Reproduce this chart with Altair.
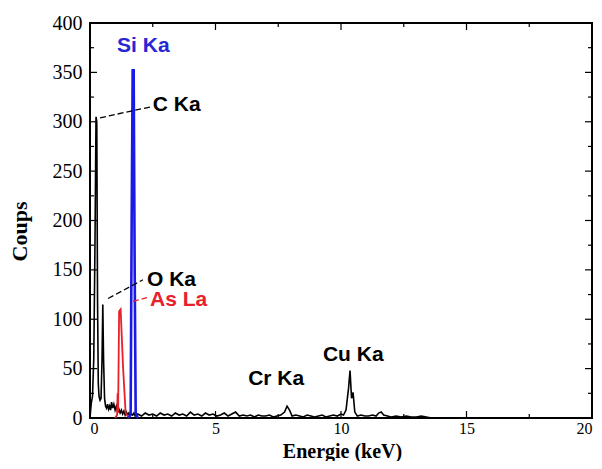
import altair as alt
import pandas as pd

# ---- data ----
black_energy = [0.00, 0.05, 0.10, 0.15, 0.20, 0.24, 0.27, 0.30, 0.33, 0.36, 0.40, 0.44, 0.48, 0.51,
                0.54, 0.58, 0.62, 0.66, 0.70, 0.74, 0.78, 0.82, 0.86, 0.90, 0.95, 1.00, 1.05, 1.10,
                1.15, 1.20, 1.25, 1.30, 1.35, 1.40, 1.45, 1.50, 1.55, 1.60, 1.65, 1.70, 1.75, 1.80,
                1.90, 2.05, 2.20, 2.35, 2.50, 2.65, 2.80, 2.95, 3.10, 3.25, 3.40, 3.55, 3.70, 3.85,
                4.00, 4.15, 4.30, 4.45, 4.60, 4.75, 4.90, 5.05, 5.20, 5.35, 5.50, 5.65, 5.80, 5.95,
                6.10, 6.25, 6.40, 6.55, 6.70, 6.85, 7.00, 7.15, 7.30, 7.45, 7.60, 7.75, 7.85, 7.95,
                8.05, 8.20, 8.35, 8.50, 8.65, 8.80, 8.95, 9.10, 9.25, 9.40, 9.55, 9.70, 9.85, 10.00,
                10.10, 10.20, 10.30, 10.36, 10.42, 10.48, 10.55, 10.65, 10.80, 10.95, 11.10, 11.25,
                11.40, 11.50, 11.60, 11.70, 11.85, 12.00, 12.20, 12.40, 12.60, 12.80, 13.00, 13.20,
                13.40, 13.60, 14.00, 20.00]
black_counts = [0, 15, 22, 60, 180, 305, 300, 120, 35, 22, 18, 20, 60, 115,
                60, 20, 12, 10, 14, 9, 12, 8, 16, 10, 14, 8, 12, 6,
                9, 5, 8, 4, 7, 3, 6, 3, 5, 2, 4, 3, 5, 2,
                4, 2, 5, 3, 4, 2, 5, 3, 4, 2, 5, 3, 4, 2,
                6, 3, 4, 2, 5, 3, 4, 2, 3, 5, 2, 4, 6, 2,
                3, 2, 3, 1, 3, 2, 2, 3, 1, 2, 3, 6, 12, 8,
                2, 3, 2, 1, 3, 2, 1, 2, 3, 1, 2, 3, 2, 4,
                3, 8, 30, 48, 20, 26, 6, 2, 3, 2, 2, 3,
                2, 5, 6, 3, 2, 1, 2, 1, 2, 1, 1, 2,
                1, 0, 0, 0]

red_energy = [1.00, 1.05, 1.08, 1.10, 1.12, 1.16, 1.22, 1.32, 1.42, 1.55]
red_counts = [0, 2, 3, 25, 5, 108, 110, 50, 5, 0]

blue_energy = [1.55, 1.62, 1.66, 1.70, 1.74, 1.78, 1.82, 1.90]
blue_counts = [0, 5, 200, 352, 352, 150, 5, 0]

label_text = ["Si Ka", "C Ka", "O Ka", "As La", "Cr Ka", "Cu Ka"]
label_energy = [1.08, 2.50, 2.27, 2.39, 6.30, 9.28]
label_counts = [377, 317, 140, 119, 40, 64]
label_color = ["#2626d4", "black", "black", "#e8202a", "black", "black"]

pointer_group = ["C", "C", "O", "O", "As", "As"]
pointer_energy = [0.40, 2.40, 0.72, 2.11, 1.71, 2.27]
pointer_counts = [304, 315, 121, 140, 118, 122]
pointer_color = ["black", "black", "black", "black", "#e8202a", "#e8202a"]

x_major = [0, 5, 10, 15, 20]
x_minor = [2.5, 7.5, 12.5, 17.5]
y_major = [0, 50, 100, 150, 200, 250, 300, 350, 400]
y_minor = [25, 75, 125, 175, 225, 275, 325, 375]

W, H = 502, 395

xs = alt.Scale(domain=[0, 20], nice=False, zero=False)
ys = alt.Scale(domain=[0, 400], nice=False)

x_axis = alt.Axis(values=x_major, format="d", title="Energie (keV)", titleX=252, titleY=39,
                  titleBaseline="alphabetic", labelPadding=2, labelFontSize=16, titleFontSize=20)
y_axis = alt.Axis(values=y_major, format="d", title="Coups", titleX=-71, titleY=208,
                  titleBaseline="middle", labelPadding=8, labelFontSize=20, titleFontSize=22)

black_df = pd.DataFrame({"E": black_energy, "C": black_counts})
red_df = pd.DataFrame({"E": red_energy, "C": red_counts})
blue_df = pd.DataFrame({"E": blue_energy, "C": blue_counts})
lab_df = pd.DataFrame({"t": label_text, "E": label_energy, "C": label_counts, "col": label_color})
ptr_df = pd.DataFrame({"g": pointer_group, "E": pointer_energy, "C": pointer_counts, "col": pointer_color})

black = alt.Chart(black_df).mark_line(color="black", strokeWidth=1.6).encode(
    x=alt.X("E:Q", scale=xs, axis=x_axis), y=alt.Y("C:Q", scale=ys, axis=y_axis))
red = alt.Chart(red_df).mark_line(color="#e8202a", strokeWidth=1.8).encode(
    x=alt.X("E:Q", scale=xs), y=alt.Y("C:Q", scale=ys))
blue = alt.Chart(blue_df).mark_line(color="#1a1ae6", strokeWidth=2.6).encode(
    x=alt.X("E:Q", scale=xs), y=alt.Y("C:Q", scale=ys))

pointers = alt.Chart(ptr_df).mark_line(strokeWidth=1.3, strokeDash=[6, 3]).encode(
    x=alt.X("E:Q", scale=xs), y=alt.Y("C:Q", scale=ys), detail="g:N",
    color=alt.Color("col:N", scale=None))

labels = alt.Chart(lab_df).mark_text(align="left", baseline="middle", font="Liberation Sans",
                                     fontWeight="bold", fontSize=21).encode(
    x=alt.X("E:Q", scale=xs), y=alt.Y("C:Q", scale=ys), text="t:N",
    color=alt.Color("col:N", scale=None))

def yticks(vals, length):
    d = pd.DataFrame({"C": vals})
    l = alt.Chart(d).mark_rule(color="black", strokeWidth=1.2).encode(
        y=alt.Y("C:Q", scale=ys), x=alt.value(0), x2=alt.value(length))
    r = alt.Chart(d).mark_rule(color="black", strokeWidth=1.2).encode(
        y=alt.Y("C:Q", scale=ys), x=alt.value(W), x2=alt.value(W - length))
    return [l, r]

def xticks(vals, length):
    d = pd.DataFrame({"E": vals})
    b = alt.Chart(d).mark_rule(color="black", strokeWidth=1.2).encode(
        x=alt.X("E:Q", scale=xs), y=alt.value(H), y2=alt.value(H - length))
    t = alt.Chart(d).mark_rule(color="black", strokeWidth=1.2).encode(
        x=alt.X("E:Q", scale=xs), y=alt.value(0), y2=alt.value(length))
    return [b, t]

tick_layers = yticks(y_major, 7) + yticks(y_minor, 4) + xticks(x_major, 7) + xticks(x_minor, 4)

chart = alt.layer(black, red, blue, pointers, labels, *tick_layers).properties(
    width=W, height=H,
    autosize=alt.AutoSizeParams(type="none"),
    padding={"left": 82, "top": 15, "right": 2, "bottom": 43},
).configure_view(stroke="black", strokeWidth=2).configure_axis(
    labelFont="Liberation Serif", labelColor="black",
    titleFont="Liberation Serif", titleFontWeight="bold", titleColor="black",
    ticks=False, domain=False, grid=False,
)

chart.save("out.html", embed_options={"renderer": "svg", "actions": False})
